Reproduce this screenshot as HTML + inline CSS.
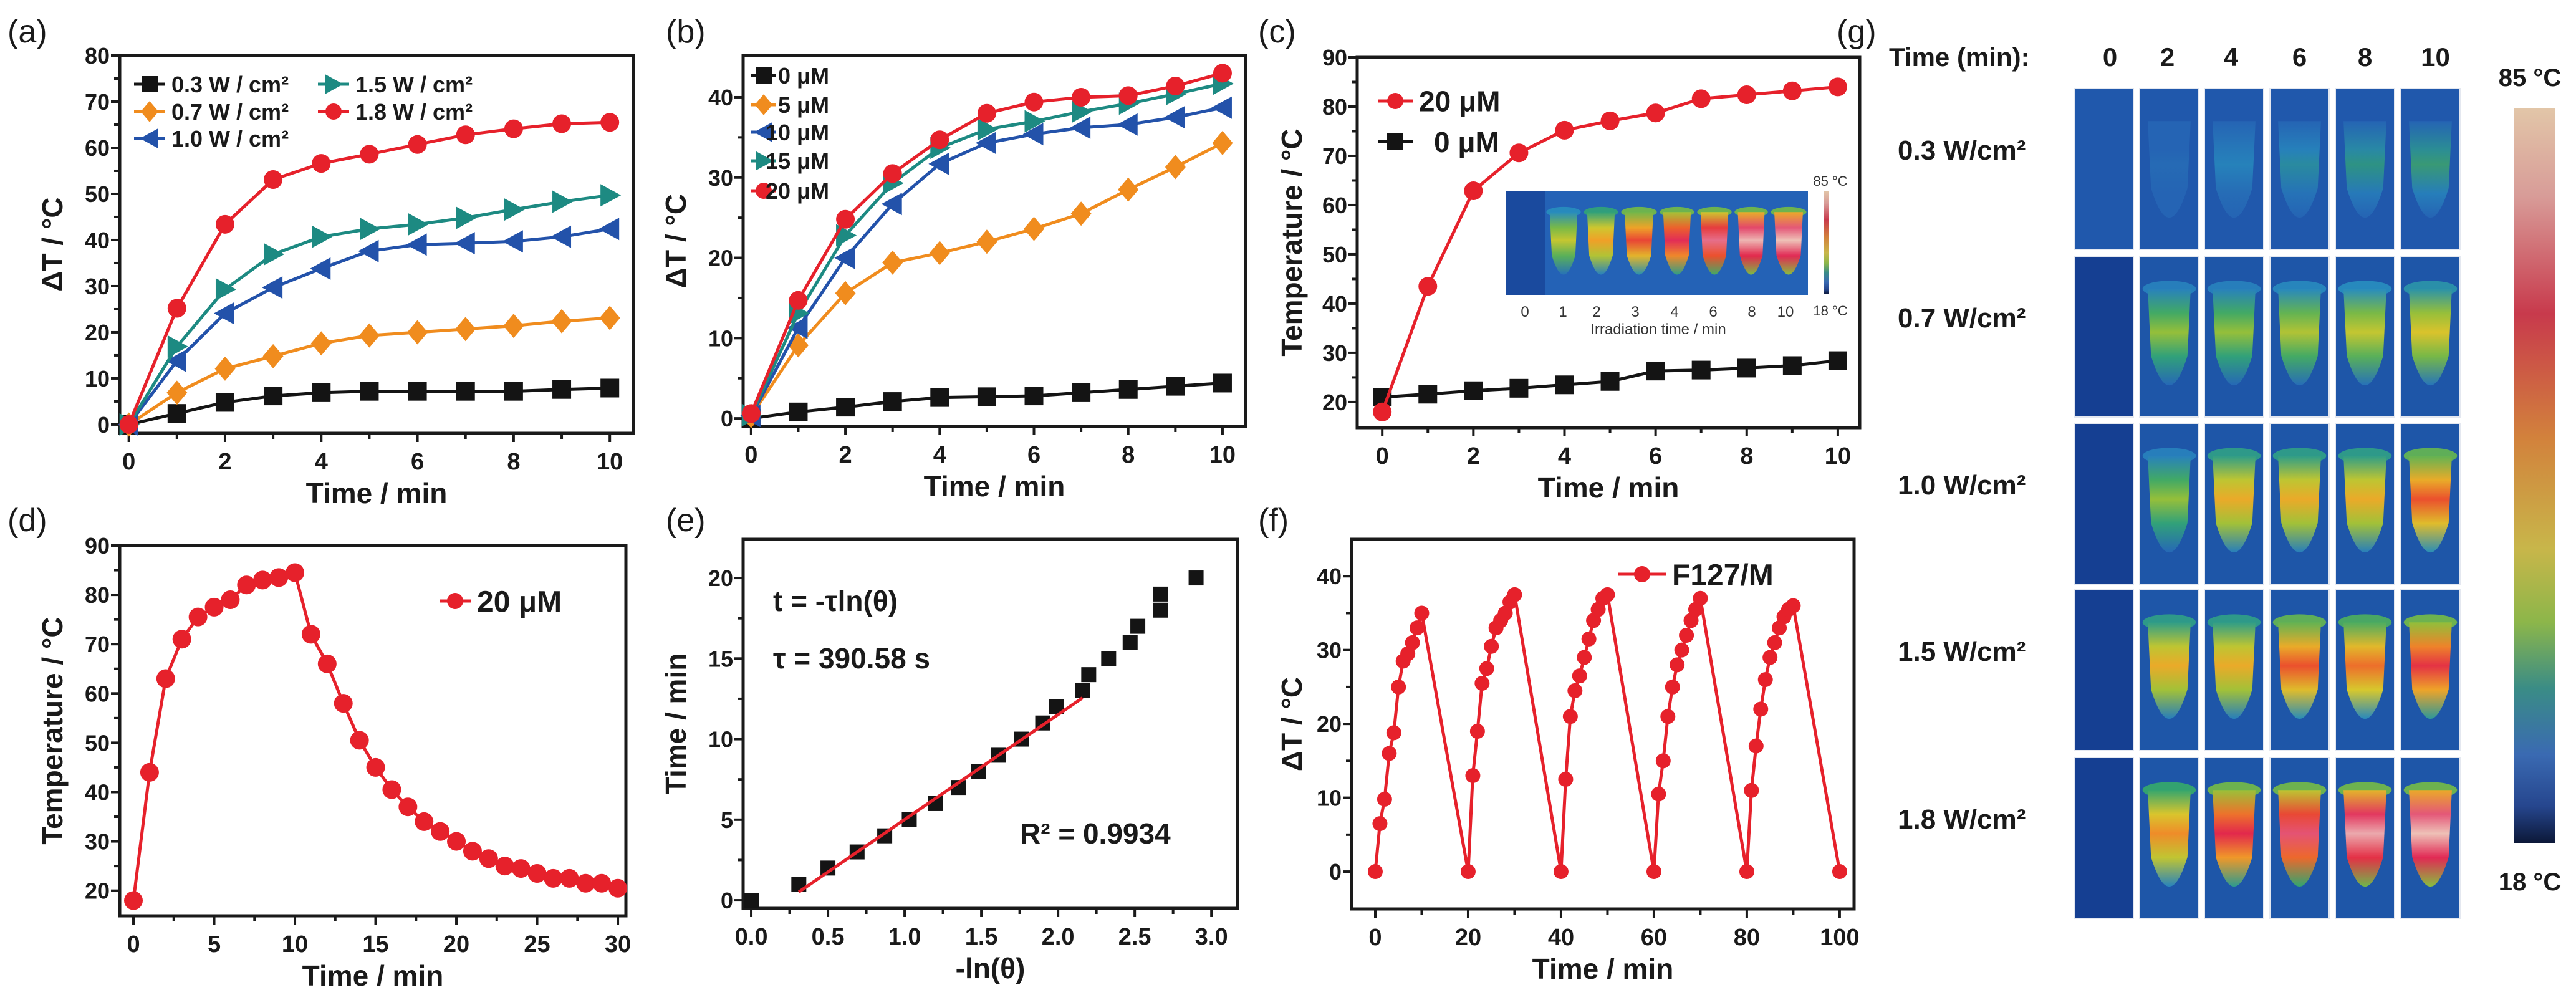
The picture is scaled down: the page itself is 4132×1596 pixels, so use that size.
<!DOCTYPE html>
<html><head><meta charset="utf-8"><style>
html,body{margin:0;padding:0;background:#fff}
svg{display:block}
text{font-family:"Liberation Sans",Arial,sans-serif}
</style></head><body>
<svg id="fig" width="4132" height="1596" viewBox="0 0 4132 1596" xmlns="http://www.w3.org/2000/svg">
<defs>
<linearGradient id="cbar" x1="0" y1="0" x2="0" y2="1">
<stop offset="0" stop-color="#e2c6a8"/><stop offset="0.12" stop-color="#d89c98"/><stop offset="0.28" stop-color="#c83a4c"/>
<stop offset="0.45" stop-color="#d2823c"/><stop offset="0.6" stop-color="#c8b64a"/><stop offset="0.7" stop-color="#8cb64a"/>
<stop offset="0.79" stop-color="#3a8c86"/><stop offset="0.88" stop-color="#3a6ab2"/><stop offset="0.95" stop-color="#26468e"/><stop offset="1" stop-color="#0c1838"/>
</linearGradient>
</defs>
</svg>
<script>
// ---------- data ----------
const aTime=[0,1,2,3,4,5,6,7,8,9,10];
const aP03=[0,2.4,4.8,6.2,6.9,7.2,7.2,7.2,7.2,7.6,7.9];
const aP07=[0,6.9,12.1,14.8,17.6,19.3,20,20.7,21.4,22.4,23.1];
const aP10=[0,13.8,24.1,29.7,33.8,37.6,39,39.3,39.7,40.7,42.4];
const aP15=[0,16.9,29.3,36.9,40.7,42.4,43.4,44.8,46.6,48.3,49.7];
const aP18=[0,25.2,43.4,53.1,56.6,58.6,60.7,62.8,64.1,65.2,65.5];
const aLabels=["0.3 W / cm\u00b2","0.7 W / cm\u00b2","1.0 W / cm\u00b2","1.5 W / cm\u00b2","1.8 W / cm\u00b2"];
const bC0=[0,0.8,1.4,2.1,2.6,2.7,2.8,3.2,3.6,4,4.4];
const bC5=[0.3,9.1,15.6,19.4,20.6,22,23.6,25.5,28.5,31.3,34.3];
const bC10=[0.3,11.3,20,26.7,31.7,34.3,35.4,36.2,36.6,37.5,38.7];
const bC15=[0.4,13.1,22.8,29.3,33.7,36,37,38.2,39.2,40.4,41.7];
const bC20=[0.6,14.7,24.8,30.5,34.7,38,39.4,40,40.2,41.4,43];
const bLabels=["0 \u03bcM","5 \u03bcM","10 \u03bcM","15 \u03bcM","20 \u03bcM"];
const c20=[18,43.5,62.9,70.6,75.2,77.1,78.7,81.6,82.4,83.2,84];
const c0=[21,21.6,22.3,22.8,23.5,24.2,26.3,26.5,26.9,27.4,28.4];
const dTime=[0,1,2,3,4,5,6,7,8,9,10,11,12,13,14,15,16,17,18,19,20,21,22,23,24,25,26,27,28,29,30];
const dTemp=[18,44,63,71,75.5,77.5,79,82,83,83.5,84.5,72,66,58,50.5,45,40.5,37,34,32,30,28,26.5,25,24.5,23.5,22.5,22.5,21.5,21.5,20.5];
const eX=[0,0.31,0.5,0.69,0.87,1.03,1.2,1.35,1.48,1.61,1.76,1.9,1.99,2.16,2.2,2.33,2.47,2.52,2.67,2.67,2.9];
const eY=[0,1,2,3,4,5,6,7,8,9,10,11,12,13,14,15,16,17,18,19,20];
const eFitX=[0.31,2.16];
const eSlope=6.51, eIntercept=-1.5;
const fTime=[0,1,2,3,4,5,6,7,8,9,10,20,21,22,23,24,25,26,27,28,29,30,40,41,42,43,44,45,46,47,48,49,50,60,61,62,63,64,65,66,67,68,69,70,80,81,82,83,84,85,86,87,88,89,90,100];
const fDT=[0,6.5,9.8,16,18.8,25,28.5,29.5,31,33,35, 0,13,19,25.5,27.5,30.5,33,34,35,36.5,37.5, 0,12.5,21,24.5,26.5,29,31.5,34,35.5,37,37.5, 0,10.5,15,21,25,28,30,32,34,35.5,37, 0,11,17,22,26,29,31,33,34.5,35.5,36, 0];
const gTimes=["0","2","4","6","8","10"];
const gPowers=["0.3 W/cm\u00b2","0.7 W/cm\u00b2","1.0 W/cm\u00b2","1.5 W/cm\u00b2","1.8 W/cm\u00b2"];
const gHeat=[[0.08,0.22,0.3,0.33,0.36,0.38],[0.05,0.45,0.45,0.48,0.5,0.53],[0.1,0.45,0.58,0.58,0.58,0.68],[0.08,0.58,0.58,0.68,0.65,0.74],[0.08,0.62,0.76,0.82,0.93,0.97]];
const insetTimes=["0","1","2","3","4","6","8","10"];
const insetHeat=[0.05,0.5,0.6,0.7,0.78,0.85,0.95,0.97];

// ---------- helpers ----------
const NS="http://www.w3.org/2000/svg";
const svg=document.getElementById('fig');
function el(tag,attrs,parent,txt){const e=document.createElementNS(NS,tag);for(const k in attrs)e.setAttribute(k,attrs[k]);if(txt!==undefined)e.textContent=txt;(parent||svg).appendChild(e);return e;}
function scale(d0,d1,p0,p1){return v=>p0+(v-d0)/(d1-d0)*(p1-p0);}

function axes(o){
  const g=el('g',{});
  
  
  const X=scale(o.xmin,o.xmax,o.fx0,o.fx1), Y=scale(o.ymin,o.ymax,o.fy1,o.fy0);
  const fr=el('rect',{x:o.fx0,y:o.fy0,width:o.fx1-o.fx0,height:o.fy1-o.fy0,fill:'none',stroke:'#1a1a1a','stroke-width':5},g);
  
  
  o.xMinor.forEach(v=>{el('line',{x1:X(v),x2:X(v),y1:o.fy1,y2:o.fy1+9,stroke:'#1a1a1a','stroke-width':4},g);});
  o.yMinor.forEach(v=>{el('line',{x1:o.fx0-9,x2:o.fx0,y1:Y(v),y2:Y(v),stroke:'#1a1a1a','stroke-width':4},g);});
  o.xTicks.forEach((v,i)=>{el('line',{x1:X(v),x2:X(v),y1:o.fy1,y2:o.fy1+14,stroke:'#1a1a1a','stroke-width':4},g);
    const t=el('text',{x:X(v),y:o.fy1+58,'text-anchor':'middle','font-size':38,'font-weight':'bold',fill:'#1a1a1a'},g,o.xLabels[i]);
    
    });
  o.yTicks.forEach((v,i)=>{el('line',{x1:o.fx0-14,x2:o.fx0,y1:Y(v),y2:Y(v),stroke:'#1a1a1a','stroke-width':4},g);
    const t=el('text',{x:o.fx0-16,y:Y(v)+13,'text-anchor':'end','font-size':36,'font-weight':'bold',fill:'#1a1a1a'},g,o.yLabels[i]);
    
    });
  const xt=el('text',{x:(o.fx0+o.fx1)/2,y:o.fy1+112,'text-anchor':'middle','font-size':46,'font-weight':'bold',fill:'#1a1a1a'},g,o.xTitle);
  
  
  const cy=(o.fy0+o.fy1)/2;
  const yt=el('text',{x:o.yTitleX,y:cy,'text-anchor':'middle','font-size':46,'font-weight':'bold',fill:'#1a1a1a',transform:`rotate(-90 ${o.yTitleX} ${cy})`},g,o.yTitle);
  
  
  const pl=el('text',{x:o.lx,y:o.ly,'font-size':52,fill:'#1a1a1a'},g,o.letter);
  
  
  return {g,X,Y};
}
function marker(shape,x,y,col,parent,s){
  s=s||15;let m;
  if(shape==='square')m=el('rect',{x:x-s,y:y-s,width:2*s,height:2*s,fill:col},parent);
  else if(shape==='circle')m=el('circle',{cx:x,cy:y,r:s,fill:col},parent);
  else if(shape==='diamond')m=el('polygon',{points:`${x},${y-s*1.3} ${x+s*1.1},${y} ${x},${y+s*1.3} ${x-s*1.1},${y}`,fill:col},parent);
  else if(shape==='left')m=el('polygon',{points:`${x-s*1.2},${y} ${x+s},${y-s*1.2} ${x+s},${y+s*1.2}`,fill:col},parent);
  else if(shape==='right')m=el('polygon',{points:`${x+s*1.2},${y} ${x-s},${y-s*1.2} ${x-s},${y+s*1.2}`,fill:col},parent);
  
  
  return m;
}
function series(ax,xs,ys,col,shape,name,lineOn,s){
  const g=el('g',{},ax.g);
  
  
  if(lineOn!==false){
    const pts=xs.map((x,i)=>ax.X(x)+','+ax.Y(ys[i])).join(' ');
    el('polyline',{points:pts,fill:'none',stroke:col,'stroke-width':5,'stroke-linejoin':'round'},g);
  }
  xs.forEach((x,i)=>marker(shape,ax.X(x),ax.Y(ys[i]),col,g,s));
  return g;
}
function legendEntry(parent,x,y,col,shape,label,fs,lineLen){
  const g=el('g',{},parent);
  
  
  lineLen=lineLen||50;
  el('line',{x1:x,x2:x+lineLen,y1:y,y2:y,stroke:col,'stroke-width':5},g);
  marker(shape,x+lineLen/2,y,col,g,13);
  el('text',{x:x+lineLen+10,y:y+fs*0.36,'font-size':fs,'font-weight':'bold',fill:'#1a1a1a'},g,label);
}
const RED='#e6212b',BLK='#141414',ORG='#f08c1e',BLU='#2352aa',TEAL='#1d8a82';
function rng(a,b,s){const r=[];for(let v=a;v<=b+1e-9;v+=s)r.push(+v.toFixed(4));return r;}

// ---------- panel a ----------
let ax=axes({name:'panel-a',fx0:192,fx1:1016,fy0:89,fy1:695,xmin:-0.19,xmax:10.49,ymin:-1.9,ymax:80,
 xTicks:rng(0,10,2),xLabels:rng(0,10,2).map(String),xMinor:rng(1,9,2),
 yTicks:rng(0,80,10),yLabels:rng(0,80,10).map(String),yMinor:rng(5,75,10),
 xTitle:'Time / min',yTitle:'\u0394T / \u00b0C',yTitleX:100,letter:'(a)',lx:12,ly:68});
series(ax,aTime,aP03,BLK,'square','series-0.3w');
series(ax,aTime,aP07,ORG,'diamond','series-0.7w');
series(ax,aTime,aP10,BLU,'left','series-1.0w');
series(ax,aTime,aP15,TEAL,'right','series-1.5w');
series(ax,aTime,aP18,RED,'circle','series-1.8w');
legendEntry(ax.g,215,135,BLK,'square',aLabels[0],36);
legendEntry(ax.g,215,179,ORG,'diamond',aLabels[1],36);
legendEntry(ax.g,215,222,BLU,'left',aLabels[2],36);
legendEntry(ax.g,510,135,TEAL,'right',aLabels[3],36);
legendEntry(ax.g,510,179,RED,'circle',aLabels[4],36);

// ---------- panel b ----------
ax=axes({name:'panel-b',fx0:1192,fx1:1998,fy0:89,fy1:684,xmin:-0.17,xmax:10.49,ymin:-1.0,ymax:45.2,
 xTicks:rng(0,10,2),xLabels:rng(0,10,2).map(String),xMinor:rng(1,9,2),
 yTicks:rng(0,40,10),yLabels:rng(0,40,10).map(String),yMinor:rng(5,35,10),
 xTitle:'Time / min',yTitle:'\u0394T / \u00b0C',yTitleX:1100,letter:'(b)',lx:1068,ly:68});
series(ax,aTime,bC0,BLK,'square','series-0um');
series(ax,aTime,bC5,ORG,'diamond','series-5um');
series(ax,aTime,bC10,BLU,'left','series-10um');
series(ax,aTime,bC15,TEAL,'right','series-15um');
series(ax,aTime,bC20,RED,'circle','series-20um');
[[BLK,'square'],[ORG,'diamond'],[BLU,'left'],[TEAL,'right'],[RED,'circle']].forEach((m,i)=>{
  legendEntry(ax.g,1205,[121,168,212,258,306][i],m[0],m[1],'',36,40);
  const t=el('text',{x:1330,y:[121,168,212,258,306][i]+13,'text-anchor':'end','font-size':36,'font-weight':'bold',fill:'#1a1a1a'},ax.g,bLabels[i]);
  
  
});

// ---------- panel c ----------
ax=axes({name:'panel-c',fx0:2177,fx1:2983,fy0:92,fy1:686,xmin:-0.55,xmax:10.48,ymin:14.8,ymax:90,
 xTicks:rng(0,10,2),xLabels:rng(0,10,2).map(String),xMinor:rng(1,9,2),
 yTicks:rng(20,90,10),yLabels:rng(20,90,10).map(String),yMinor:rng(25,85,10),
 xTitle:'Time / min',yTitle:'Temperature / \u00b0C',yTitleX:2088,letter:'(c)',lx:2018,ly:68});
series(ax,aTime,c0,BLK,'square','series-0um');
legendEntry(ax.g,2210,162,RED,'circle','20 \u03bcM',46,56);
legendEntry(ax.g,2210,227,BLK,'square','',46,56);
el('text',{x:2300,y:244,'font-size':46,'font-weight':'bold',fill:'#1a1a1a'},ax.g,'0 \u03bcM');

// colormap
const cmStops=[[0,[11,26,58]],[0.08,[26,63,138]],[0.18,[38,96,180]],[0.3,[40,140,190]],[0.37,[50,165,110]],[0.44,[140,190,60]],[0.52,[215,200,45]],[0.6,[240,160,40]],[0.68,[235,80,45]],[0.77,[225,35,80]],[0.88,[232,140,160]],[1,[240,210,190]]];
function cm(v){v=Math.max(0,Math.min(1,v));for(let i=1;i<cmStops.length;i++){if(v<=cmStops[i][0]){const a=cmStops[i-1],b=cmStops[i];const t=(v-a[0])/(b[0]-a[0]);const c=a[1].map((x,k)=>Math.round(x+(b[1][k]-x)*t));return `rgb(${c})`;}}return 'rgb(240,210,190)';}
let gid=0;
function tube(parent,x,y,w,h,peak,bg){
  el('rect',{x:x,y:y,width:w,height:h,fill:bg},parent);
  if(peak<0.12)return;
  const id='tg'+(gid++);
  const lg=el('linearGradient',{id:id,x1:0,y1:0,x2:0,y2:1},svg.querySelector('defs'));
  const lo=peak<0.4;
  const st=lo?[[0,0.2],[0.3,peak*0.9],[0.45,peak],[0.75,peak*0.75],[1,0.2]]:[[0,peak*0.6],[0.25,peak*0.85],[0.45,peak],[0.7,peak*0.8],[1,peak*0.45]];
  st.forEach(s=>el('stop',{offset:s[0],'stop-color':cm(Math.max(s[1],0.2))},lg));
  const cx=x+w/2, tw=w*0.37, top=y+h*0.2, bot=y+h*0.95;
  if(peak>0.4){el('ellipse',{cx:cx,cy:top,rx:w*0.46,ry:h*0.05,fill:cm(Math.min(peak*0.6,0.42)),opacity:0.95},parent);}
  el('path',{d:`M${cx-tw},${top} L${cx+tw},${top} L${cx+tw*0.85},${y+h*0.62} Q${cx},${bot+h*0.04} ${cx-tw*0.85},${y+h*0.62} Z`,fill:`url(#${id})`,opacity:lo?0.8:1},parent);
}
// inset in c
const ins=el('g',{},ax.g);


const insX=[2415,2478,2538,2598,2660,2720,2780,2838,2900];
const insLabX=[2446,2507,2561,2623,2686,2748,2810,2864];
insetHeat.forEach((p,i)=>{tube(ins,insX[i],307,insX[i+1]-insX[i],166,p,i===0?'#1a4a9e':'#2462b6');
  el('text',{x:insLabX[i],y:508,'text-anchor':'middle','font-size':24,fill:'#333'},ins,insetTimes[i]);});
el('text',{x:2660,y:536,'text-anchor':'middle','font-size':24,fill:'#333'},ins,'Irradiation time / min');
el('rect',{x:2925,y:306,width:9,height:166,fill:'url(#cbar)'},ins);
el('text',{x:2936,y:298,'text-anchor':'middle','font-size':22,fill:'#333'},ins,'85 \u00b0C');
el('text',{x:2936,y:506,'text-anchor':'middle','font-size':22,fill:'#333'},ins,'18 \u00b0C');
series(ax,aTime,c20,RED,'circle','series-20um');

// ---------- panel d ----------
ax=axes({name:'panel-d',fx0:192,fx1:1004,fy0:875,fy1:1469,xmin:-0.85,xmax:30.5,ymin:14.9,ymax:90,
 xTicks:rng(0,30,5),xLabels:rng(0,30,5).map(String),xMinor:rng(2.5,27.5,5),
 yTicks:rng(20,90,10),yLabels:rng(20,90,10).map(String),yMinor:rng(25,85,10),
 xTitle:'Time / min',yTitle:'Temperature / \u00b0C',yTitleX:100,letter:'(d)',lx:12,ly:852});
series(ax,dTime,dTemp,RED,'circle','series-20um');
legendEntry(ax.g,705,964,RED,'circle','20 \u03bcM',48,50);

// ---------- panel e ----------
ax=axes({name:'panel-e',fx0:1192,fx1:1985,fy0:865,fy1:1457,xmin:-0.053,xmax:3.17,ymin:-0.5,ymax:22.4,
 xTicks:rng(0,3,0.5),xLabels:rng(0,3,0.5).map(v=>v.toFixed(1)),xMinor:rng(0.25,2.75,0.5),
 yTicks:rng(0,20,5),yLabels:rng(0,20,5).map(String),yMinor:rng(2.5,17.5,5),
 xTitle:'-ln(\u03b8)',yTitle:'Time / min',yTitleX:1100,letter:'(e)',lx:1068,ly:852});
series(ax,eX,eY,BLK,'square','series-data',false,12);
const fit=el('line',{x1:ax.X(eFitX[0]),y1:ax.Y(eSlope*eFitX[0]+eIntercept),x2:ax.X(eFitX[1]),y2:ax.Y(eSlope*eFitX[1]+eIntercept),stroke:RED,'stroke-width':5},ax.g);


[['t = -\u03c4ln(\u03b8)',1240,980],['\u03c4 = 390.58 s',1240,1072]].forEach(t=>{const e=el('text',{x:t[1],y:t[2],'font-size':46,'font-weight':'bold',fill:'#1a1a1a'},ax.g,t[0]);
 
 });
const r2=el('text',{x:1636,y:1353,'font-size':46,'font-weight':'bold',fill:'#1a1a1a'},ax.g,'R\u00b2 = 0.9934');



// ---------- panel f ----------
ax=axes({name:'panel-f',fx0:2168,fx1:2974,fy0:865,fy1:1458,xmin:-5.1,xmax:103.1,ymin:-5.06,ymax:45,
 xTicks:rng(0,100,20),xLabels:rng(0,100,20).map(String),xMinor:rng(10,90,20),
 yTicks:rng(0,40,10),yLabels:rng(0,40,10).map(String),yMinor:rng(5,35,10),
 xTitle:'Time / min',yTitle:'\u0394T / \u00b0C',yTitleX:2088,letter:'(f)',lx:2018,ly:852});
series(ax,fTime,fDT,RED,'circle','series-f127m',true,12);
legendEntry(ax.g,2596,921,RED,'circle','F127/M',48,76);

// ---------- panel g ----------
const gg=el('g',{});


el('text',{x:2946,y:68,'font-size':52,fill:'#1a1a1a'},gg,'(g)');
el('text',{x:3030,y:106,'font-size':42,'font-weight':'bold',fill:'#1a1a1a'},gg,'Time (min):');
const colX=[3328,3433,3537,3642,3747,3852], cellW=93, rowY=[143,412,680,947,1216], cellH=256;
gTimes.forEach((t,i)=>{const e=el('text',{x:colX[i]+cellW/2+([10,-3,-5,0,0,8][i]),y:106,'text-anchor':'middle','font-size':42,'font-weight':'bold',fill:'#1a1a1a'},gg,t);
 
 });
gPowers.forEach((p,r)=>{
  const e=el('text',{x:3044,y:rowY[r]+cellH/2-15,'font-size':44,'font-weight':'bold',fill:'#1a1a1a'},gg,p);
  
  
  gHeat[r].forEach((v,c)=>{
    const cell=el('g',{},gg);
    
    
    el('rect',{x:colX[c]-2,y:rowY[r]-2,width:cellW+4,height:cellH+4,fill:'#e4e8f0'},cell);
    tube(cell,colX[c],rowY[r],cellW,cellH,v,(c===0&&r>0)?'#153f92':(r===0?'#2058ac':'#1e56a8'));
  });
});
const cb=el('rect',{x:4032,y:173,width:66,height:1179,fill:'url(#cbar)'},gg);


el('text',{x:4058,y:138,'text-anchor':'middle','font-size':40,'font-weight':'bold',fill:'#1a1a1a'},gg,'85 \u00b0C');
el('text',{x:4058,y:1428,'text-anchor':'middle','font-size':40,'font-weight':'bold',fill:'#1a1a1a'},gg,'18 \u00b0C');
</script>
</body></html>
